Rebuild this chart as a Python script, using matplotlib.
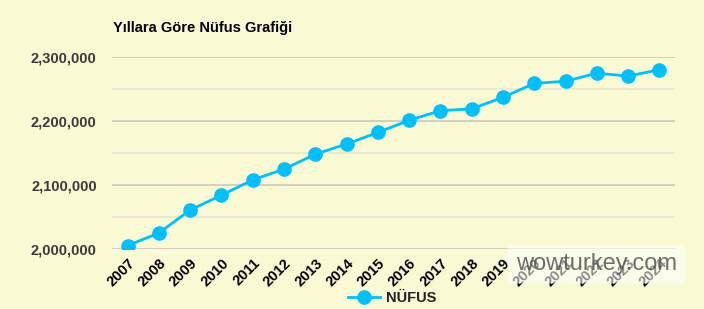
import matplotlib.pyplot as plt
from matplotlib.ticker import FuncFormatter, MultipleLocator

plt.rcParams['font.family'] = ['Liberation Sans', 'DejaVu Sans']

years = ['2007', '2008', '2009', '2010', '2011', '2012', '2013', '2014', '2015',
         '2016', '2017', '2018', '2019', '2020', '2021', '2022', '2023', '2024']
nufus = [2005500, 2025000, 2061000, 2084000, 2108000, 2124800, 2148000, 2164000, 2182000,
         2201000, 2216000, 2218800, 2237000, 2258500, 2262000, 2274500, 2270000, 2280000]

bg = '#f9f9d3'
fig = plt.figure(figsize=(7.04, 3.09), dpi=100, facecolor=bg)
ax = fig.add_axes([0.159, 0.194, 0.8, 0.622], facecolor=bg)

x = list(range(len(years)))
ax.plot(x, nufus, color='#00bfff', lw=2, marker='o', ms=9.5, label='NÜFUS', zorder=3)

ax.set_xlim(-0.5, len(years) - 0.5)
ax.set_ylim(2000000, 2300000)
ax.yaxis.set_major_locator(MultipleLocator(100000))
ax.yaxis.set_minor_locator(MultipleLocator(50000))
ax.yaxis.set_major_formatter(FuncFormatter(lambda v, p: f'{int(v):,}'))
ax.grid(axis='y', which='major', color='#c8c8c0', lw=1.2)
ax.grid(axis='y', which='minor', color='#e6e6d0', lw=1.2)
ax.set_axisbelow(True)
for s in ax.spines.values():
    s.set_visible(False)
ax.tick_params(axis='both', which='both', length=0)
ax.tick_params(axis='y', pad=11)
ax.tick_params(axis='x', pad=5)

ax.set_xticks(x)
ax.set_xticklabels(years, rotation=45, ha='right', rotation_mode='anchor',
                   fontsize=10.5, fontweight='bold', color='black')
for lab in ax.get_yticklabels():
    lab.set_fontsize(10.5)
    lab.set_fontweight('bold')
    lab.set_color('#3a3a3a')

fig.text(0.161, 0.908, 'Yıllara Göre Nüfus Grafiği', fontsize=10.5, fontweight='bold',
         color='black', va='center')

leg = fig.legend(loc='center', bbox_to_anchor=(0.557, 0.035), frameon=False,
                 prop={'weight': 'bold', 'size': 10.5}, handlelength=2.2,
                 handletextpad=0.4, borderaxespad=0)
for t in leg.get_texts():
    t.set_color('#222222')

fig.text(0.847, 0.145, 'wowturkey.com', fontsize=17, color='#555555', alpha=0.85,
         ha='center', va='center',
         bbox=dict(boxstyle='round,pad=0.35,rounding_size=0.2', fc='white', ec='none', alpha=0.55))

fig.savefig('out.png', dpi=100, facecolor=bg)
